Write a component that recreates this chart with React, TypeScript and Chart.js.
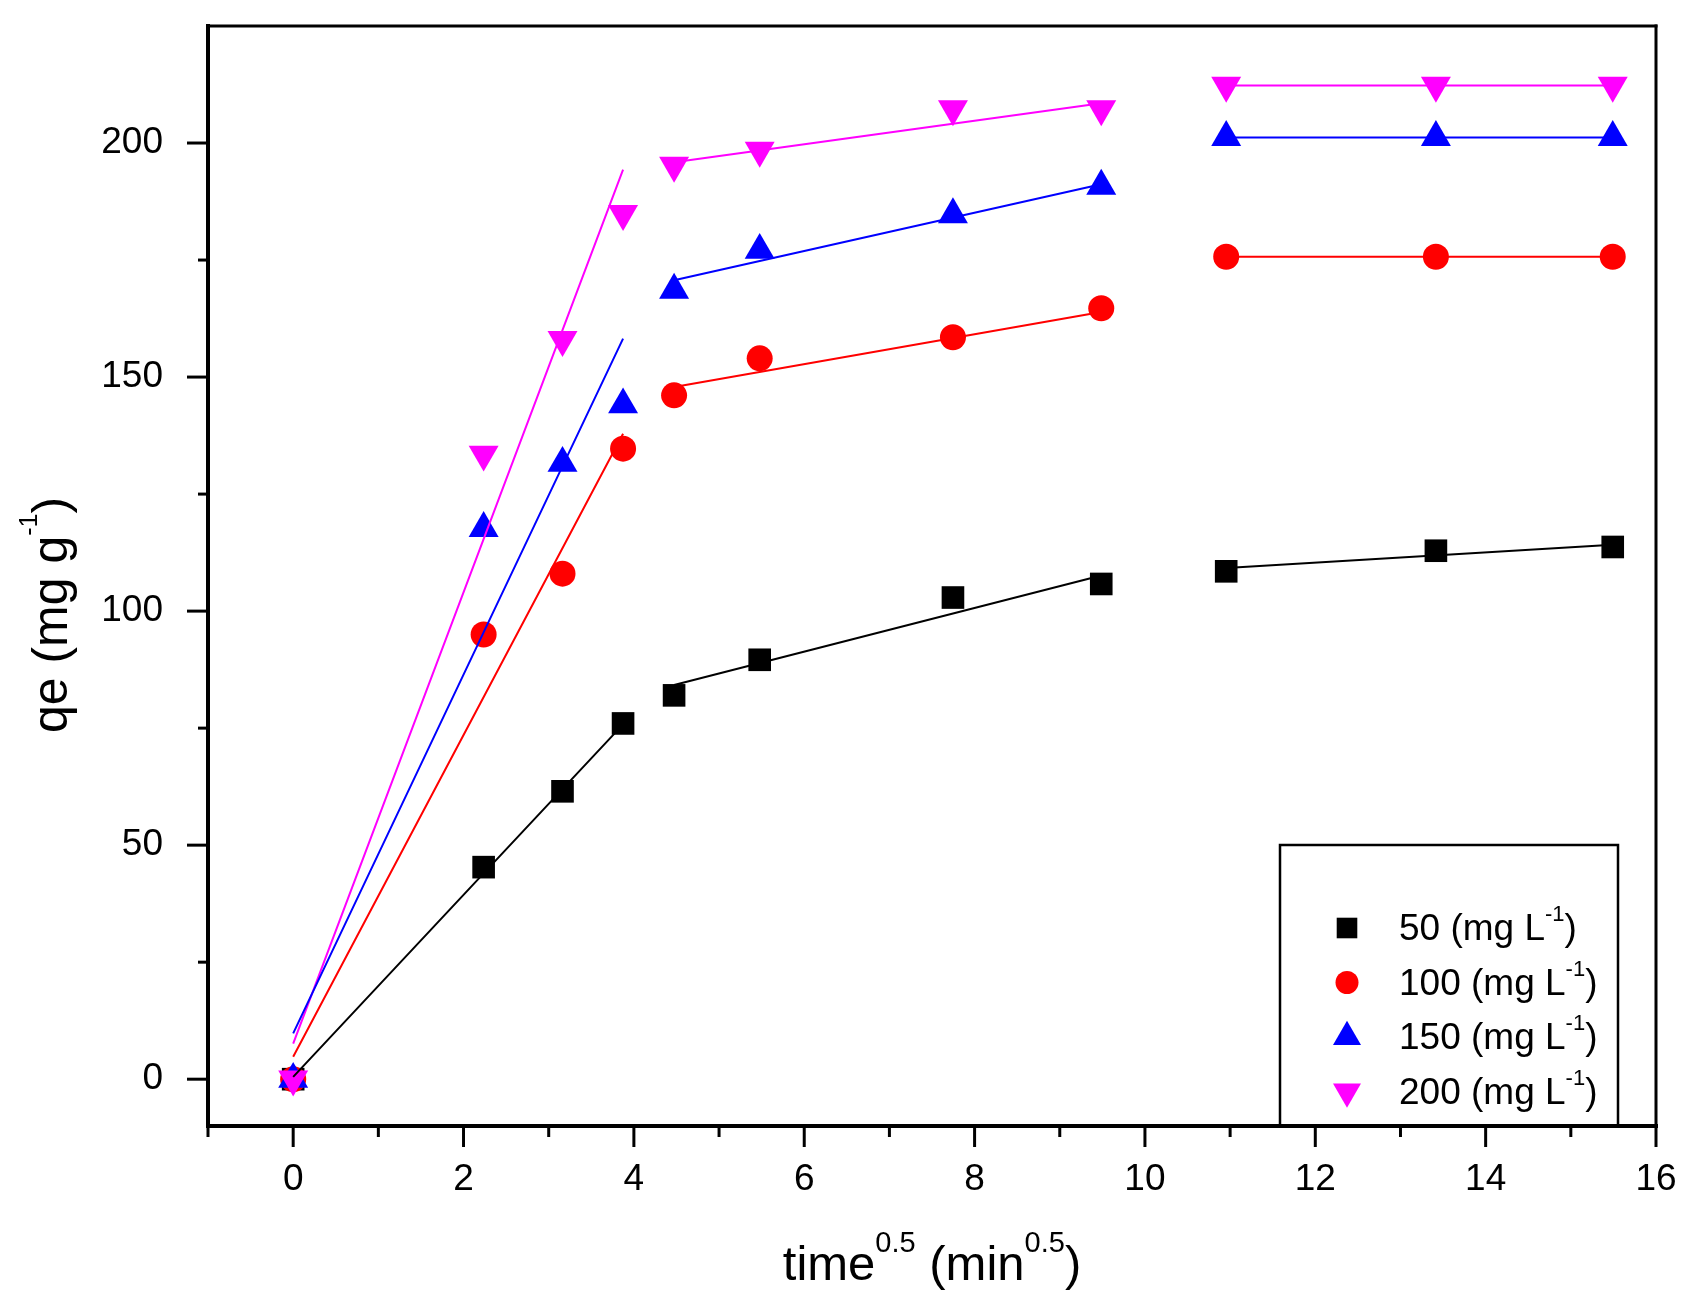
import React, { useEffect, useRef } from 'react';
import Chart from 'chart.js/auto';

// sqrt(time) in min^0.5
const timeSqrt = [0, 2.236, 3.162, 3.873, 4.472, 5.477, 7.746, 9.487, 10.954, 13.416, 15.492];

// measured qe (mg g-1)
const qe50 = [0, 45.3, 61.5, 76.0, 82.0, 89.6, 102.9, 105.8, 108.5, 112.9, 113.7];
const qe100 = [0, 95.0, 108.0, 134.7, 146.1, 154.0, 158.5, 164.7, 175.7, 175.7, 175.7];
const qe150 = [0, 117.7, 131.6, 144.1, 168.6, 177.1, 184.7, 190.8, 201.2, 201.2, 201.2];
const qe200 = [0, 133.5, 158.0, 184.9, 195.2, 198.4, 207.3, 207.3, 212.3, 212.3, 212.3];

// fitted line segments (start/end of the three stages)
const fitX = [0, 3.873, 4.472, 9.487, 10.954, 15.492];
const fit50 = [0.5, 75.8, 84.2, 107.6, 109.2, 114.2];
const fit100 = [4.8, 137.9, 147.9, 163.9, 175.7, 175.7];
const fit150 = [9.8, 158.2, 170.7, 191.2, 201.2, 201.2];
const fit200 = [7.6, 194.3, 195.9, 208.5, 212.3, 212.3];

const seriesNames = ['50', '100', '150', '200'];
const seriesColors = ['#000000', '#FF0000', '#0000FF', '#FF00FF'];

const xMajorTicks = [0, 2, 4, 6, 8, 10, 12, 14, 16];
const xMinorTicks = [-1, 1, 3, 5, 7, 9, 11, 13, 15];
const yMajorTicks = [0, 50, 100, 150, 200];
const yMinorTicks = [25, 75, 125, 175];

const FONT = '"Liberation Sans", Arial, sans-serif';

type Part = { t: string; sup?: boolean };

function drawRich(
  ctx: CanvasRenderingContext2D,
  parts: Part[],
  x: number,
  y: number,
  size: number,
  supSize: number,
  raise: number,
  center: boolean
) {
  ctx.textAlign = 'left';
  ctx.textBaseline = 'alphabetic';
  let w = 0;
  parts.forEach((p) => {
    ctx.font = `${p.sup ? supSize : size}px ${FONT}`;
    w += ctx.measureText(p.t).width;
  });
  let cx = center ? x - w / 2 : x;
  parts.forEach((p) => {
    ctx.font = `${p.sup ? supSize : size}px ${FONT}`;
    ctx.fillText(p.t, cx, p.sup ? y - raise : y);
    cx += ctx.measureText(p.t).width;
  });
}

function fitData(ys: number[]) {
  return [
    { x: fitX[0], y: ys[0] },
    { x: fitX[1], y: ys[1] },
    { x: fitX[2], y: null },
    { x: fitX[2], y: ys[2] },
    { x: fitX[3], y: ys[3] },
    { x: fitX[4], y: null },
    { x: fitX[4], y: ys[4] },
    { x: fitX[5], y: ys[5] },
  ];
}

const framePlugin = {
  id: 'frame',
  afterDraw(chart: any) {
    const { ctx, chartArea: a, scales } = chart;
    const xs = scales.x;
    const ys = scales.y;
    ctx.save();
    ctx.strokeStyle = '#000';
    ctx.fillStyle = '#000';
    ctx.lineCap = 'butt';

    const seg = (x1: number, y1: number, x2: number, y2: number) => {
      ctx.beginPath();
      ctx.moveTo(x1, y1);
      ctx.lineTo(x2, y2);
      ctx.stroke();
    };

    // ticks (outward)
    ctx.lineWidth = 3;
    xMajorTicks.forEach((v) => {
      const px = xs.getPixelForValue(v);
      seg(px, a.bottom, px, a.bottom + 21);
    });
    xMinorTicks.forEach((v) => {
      const px = xs.getPixelForValue(v);
      seg(px, a.bottom, px, a.bottom + 11);
    });
    yMajorTicks.forEach((v) => {
      const py = ys.getPixelForValue(v);
      seg(a.left, py, a.left - 21, py);
    });
    yMinorTicks.forEach((v) => {
      const py = ys.getPixelForValue(v);
      seg(a.left, py, a.left - 10, py);
    });

    // frame
    ctx.lineCap = 'square';
    ctx.lineWidth = 3;
    seg(a.left, a.top, a.right, a.top);
    seg(a.right, a.top, a.right, a.bottom);
    ctx.lineWidth = 4;
    seg(a.left, a.bottom, a.right, a.bottom);
    seg(a.left, a.top, a.left, a.bottom);

    // legend box
    const lx = 1280;
    const ly = 845;
    const lr = 1618;
    ctx.lineCap = 'butt';
    ctx.lineWidth = 2.5;
    ctx.beginPath();
    ctx.moveTo(lx, a.bottom);
    ctx.lineTo(lx, ly);
    ctx.lineTo(lr, ly);
    ctx.lineTo(lr, a.bottom);
    ctx.stroke();

    seriesNames.forEach((name, i) => {
      const base = 940 + i * 54.5;
      const my = base - 12;
      const mx = 1347;
      ctx.fillStyle = seriesColors[i];
      ctx.beginPath();
      if (i === 0) {
        ctx.rect(mx - 10.3, my - 10.3, 20.6, 20.6);
      } else if (i === 1) {
        ctx.arc(mx, my, 11.5, 0, Math.PI * 2);
      } else if (i === 2) {
        ctx.moveTo(mx, my - 16.2);
        ctx.lineTo(mx + 14, my + 8.1);
        ctx.lineTo(mx - 14, my + 8.1);
        ctx.closePath();
      } else {
        ctx.moveTo(mx, my + 16.2);
        ctx.lineTo(mx + 14, my - 8.1);
        ctx.lineTo(mx - 14, my - 8.1);
        ctx.closePath();
      }
      ctx.fill();
      ctx.fillStyle = '#000';
      drawRich(
        ctx,
        [{ t: `${name} (mg L` }, { t: '-1', sup: true }, { t: ')' }],
        1399,
        base,
        37,
        22,
        19,
        false
      );
    });

    // axis titles
    ctx.fillStyle = '#000';
    drawRich(
      ctx,
      [{ t: 'time' }, { t: '0.5', sup: true }, { t: ' (min' }, { t: '0.5', sup: true }, { t: ')' }],
      (a.left + a.right) / 2,
      1280,
      49,
      29,
      28,
      true
    );
    ctx.translate(67, 615);
    ctx.rotate(-Math.PI / 2);
    drawRich(
      ctx,
      [{ t: 'qe (mg g' }, { t: '-1', sup: true }, { t: ')' }],
      0,
      0,
      50,
      25,
      30,
      true
    );
    ctx.restore();
  },
};

const noPad = (scale: any) => {
  scale.paddingTop = 0;
  scale.paddingBottom = 0;
  scale.paddingLeft = 0;
  scale.paddingRight = 0;
};

const App: React.FC = () => {
  const canvasRef = useRef<HTMLCanvasElement>(null);
  const chartRef = useRef<Chart | null>(null);

  useEffect(() => {
    if (!canvasRef.current) return;
    if (chartRef.current) chartRef.current.destroy();

    const measured = [qe50, qe100, qe150, qe200];
    const fits = [fit50, fit100, fit150, fit200];
    const styles: any[] = [
      { pointStyle: 'rect', pointRadius: 16, pointRotation: 0 },
      { pointStyle: 'circle', pointRadius: 13, pointRotation: 0 },
      { pointStyle: 'triangle', pointRadius: 17.3, pointRotation: 0 },
      { pointStyle: 'triangle', pointRadius: 17.3, pointRotation: 180 },
    ];

    const markerSets = measured.map((vals, i) => ({
      label: seriesNames[i],
      data: timeSqrt.map((x, j) => ({ x, y: vals[j] })),
      showLine: false,
      backgroundColor: seriesColors[i],
      borderColor: seriesColors[i],
      borderWidth: 0,
      pointBorderWidth: 0,
      ...styles[i],
      order: 5 - i,
    }));

    const fitSets = fits.map((vals, i) => ({
      label: `${seriesNames[i]} fit`,
      data: fitData(vals),
      showLine: true,
      spanGaps: false,
      borderColor: seriesColors[i],
      backgroundColor: seriesColors[i],
      borderWidth: 2,
      pointRadius: 0,
      order: 1,
    }));

    chartRef.current = new Chart(canvasRef.current, {
      type: 'scatter',
      data: { datasets: [...fitSets, ...markerSets] as any },
      options: {
        responsive: false,
        animation: false,
        layout: { padding: { top: 26, right: 39, bottom: 0, left: 0 } },
        plugins: {
          legend: { display: false },
          tooltip: { enabled: false },
        },
        scales: {
          x: {
            type: 'linear',
            min: -1,
            max: 16,
            grid: { display: false },
            border: { display: false },
            afterBuildTicks: (scale: any) => {
              scale.ticks = xMajorTicks.map((v) => ({ value: v }));
            },
            afterFit: (scale: any) => {
              scale.height = 188;
              noPad(scale);
            },
            ticks: {
              autoSkip: false,
              maxRotation: 0,
              padding: 24,
              color: '#000',
              font: { family: FONT, size: 37 },
              callback: (v: any) => String(v),
            },
          },
          y: {
            type: 'linear',
            min: -10,
            max: 225,
            grid: { display: false },
            border: { display: false },
            afterBuildTicks: (scale: any) => {
              scale.ticks = yMajorTicks.map((v) => ({ value: v }));
            },
            afterFit: (scale: any) => {
              scale.width = 208;
              noPad(scale);
            },
            ticks: {
              autoSkip: false,
              padding: 37,
              color: '#000',
              font: { family: FONT, size: 37 },
              callback: (v: any) => String(v),
            },
          },
        },
      },
      plugins: [framePlugin],
    });

    return () => {
      if (chartRef.current) {
        chartRef.current.destroy();
        chartRef.current = null;
      }
    };
  }, []);

  return (
    <div style={{ position: 'fixed', left: 0, top: 0, width: '1695px', height: '1314px', background: '#fff' }}>
      <canvas ref={canvasRef} width={1695} height={1314}></canvas>
    </div>
  );
};

export default App;
